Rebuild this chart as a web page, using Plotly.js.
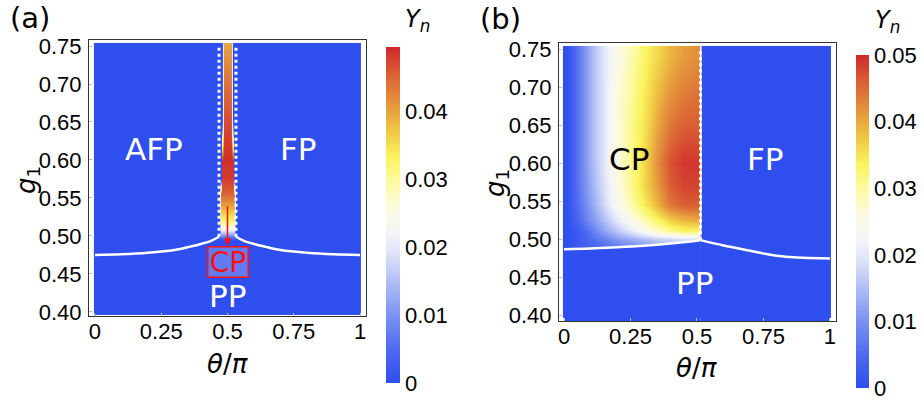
<!DOCTYPE html>
<html>
<head>
<meta charset="utf-8">
<script src="https://cdn.plot.ly/plotly-3.0.1.min.js"></script>
<style>html,body{margin:0;padding:0;background:#fff}</style>
</head>
<body>
<div id="chart" style="width:924px;height:403px"></div>
<script>
// ---------- panel (a) data ----------
const aTheta = [0, 0.008, 0.462, 0.468, 0.474, 0.48, 0.488, 0.5, 0.512, 0.52, 0.526, 0.532, 0.538, 0.992, 1];
const aG1 = [0.4, 0.408, 0.494, 0.499, 0.503, 0.508, 0.515, 0.525, 0.54, 0.555, 0.575, 0.6, 0.65, 0.7, 0.742, 0.75];
const aYn = [
  [0,0,0,0,0,0,0,0,0,0,0,0,0,0,0],
  [0,0,0,0,0,0,0,0,0,0,0,0,0,0,0],
  [0,0,0,0,0,0,0,0,0,0,0,0,0,0,0],
  [0,0,0,0,0.006,0.006,0.006,0.006,0.006,0.006,0.006,0,0,0,0],
  [0,0,0,0,0.013,0.013,0.013,0.013,0.013,0.013,0.013,0,0,0,0],
  [0,0,0,0,0.021,0.021,0.021,0.021,0.021,0.021,0.021,0,0,0,0],
  [0,0,0,0,0.029,0.029,0.029,0.029,0.029,0.029,0.029,0,0,0,0],
  [0,0,0,0,0.034,0.034,0.034,0.034,0.034,0.034,0.034,0,0,0,0],
  [0,0,0,0,0.040,0.040,0.040,0.040,0.040,0.040,0.040,0,0,0,0],
  [0,0,0,0,0.045,0.045,0.045,0.045,0.045,0.045,0.045,0,0,0,0],
  [0,0,0,0,0,0.048,0.048,0.048,0.048,0.048,0,0,0,0,0],
  [0,0,0,0,0,0.049,0.049,0.049,0.049,0.049,0,0,0,0,0],
  [0,0,0,0,0,0,0.047,0.047,0.047,0,0,0,0,0,0],
  [0,0,0,0,0,0,0.044,0.044,0.044,0,0,0,0,0,0],
  [0,0,0,0,0,0,0.041,0.041,0.041,0,0,0,0,0,0],
  [0,0,0,0,0,0,0.040,0.040,0.040,0,0,0,0,0,0]
];
const aBoundLeftX = [0, 0.1, 0.2, 0.3, 0.36, 0.4, 0.44, 0.468];
const aBoundLeftY = [0.475, 0.4758, 0.4778, 0.4815, 0.486, 0.4895, 0.494, 0.499];
const aBoundRightX = [0.532, 0.56, 0.6, 0.64, 0.7, 0.8, 0.9, 1];
const aBoundRightY = [0.499, 0.494, 0.4895, 0.486, 0.4815, 0.4778, 0.4758, 0.475];
const aDotLeftX = [0.468, 0.468], aDotRightX = [0.532, 0.532], aDotY = [0.499, 0.75];
const aCbTicks = [0, 0.01, 0.02, 0.03, 0.04];
const aCbText = ['0', '0.01', '0.02', '0.03', '0.04'];
const aZmax = 0.0495;

// ---------- panel (b) data ----------
const bTheta = [0, 0.008, 0.05, 0.1, 0.15, 0.2, 0.25, 0.3, 0.35, 0.4, 0.45, 0.5, 0.508, 0.518, 0.992, 1];
const bG1 = [0.4, 0.408, 0.484, 0.49, 0.5, 0.51, 0.525, 0.545, 0.57, 0.6, 0.65, 0.7, 0.742, 0.75];
const bYn = [
  [0,0,0,0,0,0,0,0,0,0,0,0,0,0,0,0],
  [0,0,0,0,0,0,0,0,0,0,0,0,0,0,0,0],
  [0,0,0.001,0.002,0.003,0.004,0.005,0.006,0.007,0.008,0.008,0.008,0.008,0,0,0],
  [0,0,0.002,0.004,0.005,0.007,0.009,0.010,0.011,0.012,0.013,0.013,0.013,0,0,0],
  [0,0,0.002,0.005,0.008,0.011,0.013,0.015,0.017,0.018,0.019,0.019,0.019,0,0,0],
  [0,0,0.002,0.007,0.012,0.016,0.020,0.024,0.028,0.031,0.033,0.033,0.033,0,0,0],
  [0,0,0.004,0.010,0.015,0.020,0.025,0.029,0.033,0.037,0.039,0.040,0.040,0,0,0],
  [0,0,0.005,0.012,0.018,0.024,0.029,0.034,0.039,0.044,0.046,0.046,0.046,0,0,0],
  [0,0,0.006,0.013,0.019,0.025,0.031,0.036,0.041,0.046,0.048,0.048,0.048,0,0,0],
  [0,0,0.006,0.014,0.020,0.026,0.031,0.036,0.042,0.047,0.049,0.049,0.049,0,0,0],
  [0,0,0.006,0.014,0.020,0.026,0.031,0.035,0.040,0.044,0.046,0.046,0.046,0,0,0],
  [0,0,0.006,0.014,0.020,0.026,0.030,0.034,0.038,0.041,0.043,0.044,0.044,0,0,0],
  [0,0,0.006,0.014,0.020,0.025,0.029,0.033,0.036,0.039,0.041,0.042,0.042,0,0,0],
  [0,0,0.006,0.014,0.020,0.025,0.029,0.033,0.036,0.039,0.041,0.042,0.042,0,0,0]
];
const bBoundLeftX = [0, 0.1, 0.2, 0.3, 0.4, 0.513];
const bBoundLeftY = [0.4865, 0.4875, 0.489, 0.491, 0.494, 0.4985];
const bBoundRightX = [0.513, 0.6, 0.7, 0.75, 0.8, 0.85, 0.9, 1];
const bBoundRightY = [0.4985, 0.4915, 0.4845, 0.481, 0.478, 0.4763, 0.4752, 0.4745];
const bDotX = [0.513, 0.513], bDotY = [0.4985, 0.75];
const bCbTicks = [0, 0.01, 0.02, 0.03, 0.04, 0.05];
const bCbText = ['0', '0.01', '0.02', '0.03', '0.04', '0.05'];
const bZmax = 0.05;

// ---------- shared axis ticks ----------
const thetaTicks = [0, 0.25, 0.5, 0.75, 1];
const thetaText = ['0', '0.25', '0.5', '0.75', '1'];
const g1Ticks = [0.40, 0.45, 0.50, 0.55, 0.60, 0.65, 0.70, 0.75];
const g1Text = ['0.40', '0.45', '0.50', '0.55', '0.60', '0.65', '0.70', '0.75'];

// ---------- styling ----------
const BLUE = 'rgb(46,78,238)';
const cscale = [
  [0, BLUE], [0.1, 'rgb(78,106,240)'], [0.2, 'rgb(122,146,242)'], [0.3, 'rgb(176,190,246)'],
  [0.38, 'rgb(220,225,248)'], [0.44, 'rgb(243,244,249)'], [0.52, 'rgb(252,250,224)'],
  [0.6, 'rgb(252,250,160)'], [0.67, 'rgb(250,244,95)'], [0.75, 'rgb(240,200,68)'],
  [0.83, 'rgb(228,150,60)'], [0.92, 'rgb(218,95,52)'], [1, 'rgb(208,40,44)']
];
const TICK_SIZE = 22;
function tickFont() { return {family: 'Liberation Sans', size: TICK_SIZE, color: '#000'}; }
const labFont = 'DejaVu Sans, sans-serif';

function cbar(x, yBot, lenPx, thick, vals, txt) {
  return {x: x, xanchor: 'left', xpad: 0, y: yBot, yanchor: 'bottom', ypad: 0,
    lenmode: 'pixels', len: lenPx, thickness: thick, outlinewidth: 0,
    tickmode: 'array', tickvals: vals, ticktext: txt, ticks: '', tickfont: tickFont(),
    ticklabelstandoff: 5};
}

const traces = [
  {type: 'heatmap', x: aTheta, y: aG1, z: aYn, xaxis: 'x', yaxis: 'y', zsmooth: 'best',
   colorscale: cscale, zmin: 0, zmax: aZmax, hoverinfo: 'skip',
   colorbar: cbar(386/924, 20/403, 336, 14, aCbTicks, aCbText)},
  {type: 'heatmap', x: bTheta, y: bG1, z: bYn, xaxis: 'x2', yaxis: 'y2', zsmooth: 'best',
   colorscale: cscale, zmin: 0, zmax: bZmax, hoverinfo: 'skip',
   colorbar: cbar(856/924, 15/403, 333, 13, bCbTicks, bCbText)},
  {type: 'scatter', mode: 'lines', x: aBoundLeftX, y: aBoundLeftY, xaxis: 'x', yaxis: 'y',
   line: {color: '#fff', width: 2.5, shape: 'spline'}, hoverinfo: 'skip', showlegend: false},
  {type: 'scatter', mode: 'lines', x: aBoundRightX, y: aBoundRightY, xaxis: 'x', yaxis: 'y',
   line: {color: '#fff', width: 2.5, shape: 'spline'}, hoverinfo: 'skip', showlegend: false},
  {type: 'scatter', mode: 'lines', x: aDotLeftX, y: aDotY, xaxis: 'x', yaxis: 'y',
   line: {color: '#fff', width: 3, dash: 'dot'}, hoverinfo: 'skip', showlegend: false},
  {type: 'scatter', mode: 'lines', x: aDotRightX, y: aDotY, xaxis: 'x', yaxis: 'y',
   line: {color: '#fff', width: 3, dash: 'dot'}, hoverinfo: 'skip', showlegend: false},
  {type: 'scatter', mode: 'lines', x: bBoundLeftX, y: bBoundLeftY, xaxis: 'x2', yaxis: 'y2',
   fill: 'tozeroy', fillcolor: BLUE,
   line: {color: '#fff', width: 2.5, shape: 'spline'}, hoverinfo: 'skip', showlegend: false},
  {type: 'scatter', mode: 'lines', x: bBoundRightX, y: bBoundRightY, xaxis: 'x2', yaxis: 'y2',
   fill: 'tozeroy', fillcolor: BLUE,
   line: {color: '#fff', width: 2.5, shape: 'spline'}, hoverinfo: 'skip', showlegend: false},
  {type: 'scatter', mode: 'lines', x: bDotX, y: bDotY, xaxis: 'x2', yaxis: 'y2',
   line: {color: '#fff', width: 3, dash: 'dot'}, hoverinfo: 'skip', showlegend: false}
];

function xax(domain, range, anchor) {
  return {domain: domain, range: range, anchor: anchor, showgrid: false, zeroline: false,
    showline: true, mirror: true, linecolor: '#333', linewidth: 1,
    tickmode: 'array', tickvals: thetaTicks, ticktext: thetaText,
    ticks: 'inside', ticklen: 3, tickcolor: '#bbb', tickfont: tickFont(), ticklabelstandoff: -4};
}
function yax(domain, range, anchor) {
  return {domain: domain, range: range, anchor: anchor, showgrid: false, zeroline: false,
    showline: true, mirror: true, linecolor: '#333', linewidth: 1,
    tickmode: 'array', tickvals: g1Ticks, ticktext: g1Text,
    ticks: 'inside', ticklen: 3, tickcolor: '#bbb', tickfont: tickFont(), ticklabelstandoff: 2};
}

function lab(text, x, y, xref, yref, size, color, extra) {
  return Object.assign({text: text, x: x, y: y, xref: xref, yref: yref, showarrow: false,
    xanchor: 'center', yanchor: 'middle', font: {family: labFont, size: size, color: color}}, extra || {});
}

const annotations = [
  lab('(a)', 30/924, 1 - 18/403, 'paper', 'paper', 29, '#000'),
  lab('(b)', 500/924, 1 - 19.5/403, 'paper', 'paper', 29, '#000'),
  lab('<i>Y</i><sub><i>n</i></sub>', 417/924, 1 - 20/403, 'paper', 'paper', 24, '#000'),
  lab('<i>Y</i><sub><i>n</i></sub>', 887/924, 1 - 21/403, 'paper', 'paper', 24, '#000'),
  lab('<i>θ</i>/<i>π</i>', 0.5, 1 - 364/403, 'x', 'paper', 26, '#000'),
  lab('<i>θ</i>/<i>π</i>', 0.5, 1 - 368/403, 'x2', 'paper', 26, '#000'),
  lab('<i>g</i><sub>1</sub>', 27/924, 1 - 180/403, 'paper', 'paper', 26, '#000', {textangle: -90}),
  lab('<i>g</i><sub>1</sub>', 497/924, 1 - 183/403, 'paper', 'paper', 26, '#000', {textangle: -90}),
  lab('AFP', 0.223, 0.6145, 'x', 'y', 31, '#fff'),
  lab('FP', 0.766, 0.6145, 'x', 'y', 31, '#fff'),
  lab('PP', 0.5, 0.421, 'x', 'y', 31, '#fff'),
  lab('CP', 0.5, 0.466, 'x', 'y', 28, '#ff1010',
      {bgcolor: 'rgba(255,255,255,0.25)', bordercolor: '#ff1010', borderwidth: 1.5, borderpad: 0,
       width: 39, height: 29}),
  {x: 0.5, y: 0.487, ax: 0.5, ay: 0.541, xref: 'x', yref: 'y', axref: 'x', ayref: 'y',
   text: '', showarrow: true, arrowhead: 2, arrowsize: 1, arrowwidth: 1.5, arrowcolor: '#ff1010'},
  lab('CP', 0.244, 0.605, 'x2', 'y2', 31, '#000'),
  lab('FP', 0.759, 0.605, 'x2', 'y2', 31, '#fff'),
  lab('PP', 0.492, 0.442, 'x2', 'y2', 31, '#fff')
];

const layout = {
  width: 924, height: 403,
  margin: {l: 0, r: 0, t: 0, b: 0, pad: 0},
  paper_bgcolor: '#fff', plot_bgcolor: '#fff',
  showlegend: false,
  font: {family: labFont, color: '#000'},
  xaxis: xax([89/924, 366/924], [-0.0226, 1.0226], 'y'),
  yaxis: yax([87/403, 363/403], [0.3947, 0.7579], 'x'),
  xaxis2: xax([559/924, 836/924], [-0.0188, 1.0226], 'y2'),
  yaxis2: yax([82/403, 360/403], [0.3921, 0.7579], 'x2'),
  annotations: annotations
};

Plotly.newPlot('chart', traces, layout, {staticPlot: true, displayModeBar: false});
</script>
</body>
</html>
